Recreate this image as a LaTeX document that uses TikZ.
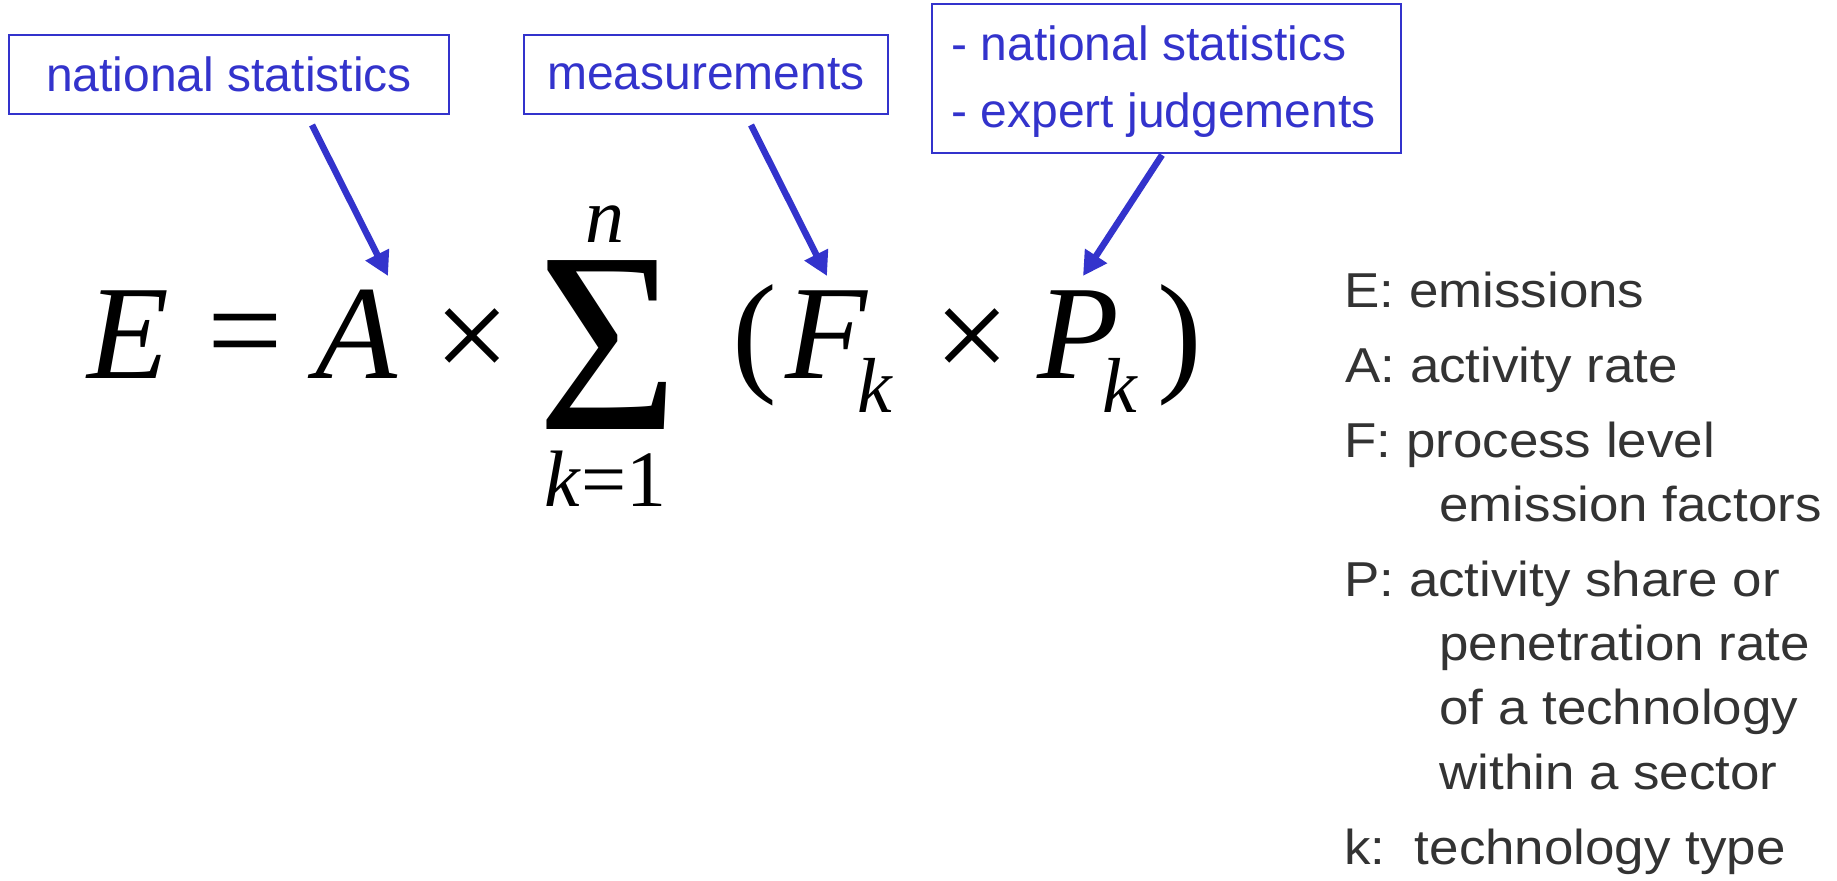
\documentclass[tikz,border=0pt]{standalone}
\usepackage{fontspec}
\usepackage{graphicx}
\setmainfont{Liberation Sans}
\newfontfamily\boxfont{Liberation Sans}
\newfontfamily\legfont[FakeStretch=1.08]{Liberation Sans}
\newfontfamily\eqfont{Liberation Serif}
\usetikzlibrary{arrows.meta}
\definecolor{lblue}{RGB}{51,51,204}
\definecolor{lgray}{RGB}{51,51,51}
\tikzset{
  srcbox/.style={draw=lblue, line width=1pt, inner sep=0pt, outer sep=0pt, text=lblue,
    font=\boxfont\fontsize{24}{28}\selectfont},
  srctext/.style={inner sep=0pt, anchor=base west, text=lblue,
    font=\boxfont\fontsize{24}{28}\selectfont},
  leg/.style={inner sep=0pt, anchor=base west, text=lgray,
    font=\legfont\fontsize{24.5}{29}\selectfont},
  bigup/.style={inner sep=0pt, anchor=center, font=\eqfont\fontsize{67}{80}\selectfont},
  bigit/.style={inner sep=0pt, anchor=base, font=\eqfont\itshape\fontsize{67}{80}\selectfont},
  subsc/.style={inner sep=0pt, anchor=base, font=\eqfont\fontsize{39}{47}\selectfont},
  ptr/.style={lblue, line width=3.25pt, -{Triangle[length=12pt,width=12.5pt]}}
}
\begin{document}
\begin{tikzpicture}[x=0.5pt,y=-0.5pt]
\useasboundingbox (0,0) rectangle (1837,881);
\fill[white] (0,0) rectangle (1837,881);

% source boxes
\node[srcbox, minimum width=220pt, minimum height=39.5pt] (b1) at (229,74.5) {national statistics};
\node[srcbox, minimum width=182pt, minimum height=39.5pt] (b2) at (706,74.5) {measurements};
\node[srcbox, minimum width=234.5pt, minimum height=74.5pt] (b3) at (1166.5,78.5) {};
\node[srctext] (b3a) at (951,61) {- national statistics};
\node[srctext] (b3b) at (951,128) {- expert judgements};

% formula
\node[bigit] (fE) at (128,379) {E};
\node[bigup] (feq) at (245.5,344.5) {=};
\node[bigit] (fA) at (356,379) {A};
\node[bigup] (ft1) at (472.5,344.5) {×};
\node[inner sep=0pt, anchor=center, font=\eqfont\fontsize{129}{140}\selectfont] (fsum) at (608.5,345) {\scalebox{0.94}[1]{Σ}};
\node[subsc, font=\eqfont\itshape\fontsize{39}{47}\selectfont] (fn) at (605,243) {n};
\node[subsc, font=\eqfont\fontsize{40}{48}\selectfont] (fk1) at (605.5,507) {\textit{k}=1};
\node[bigup] (flp) at (755,345) {(};
\node[bigit] (fF) at (826,379) {F};
\node[subsc, font=\eqfont\itshape\fontsize{39}{47}\selectfont] (fFk) at (875,413) {k};
\node[bigup] (ft2) at (972,344.5) {×};
\node[bigit] (fP) at (1078,379) {P};
\node[subsc, font=\eqfont\itshape\fontsize{39}{47}\selectfont] (fPk) at (1120,413) {k};
\node[bigup] (frp) at (1180,345) {)};

% arrows
\coordinate (s1) at (312,125);
\coordinate (t1) at (388,276);
\coordinate (s2) at (751,125);
\coordinate (t2) at (827,276);
\coordinate (s3) at (1162,155);
\coordinate (t3) at (1083,276);
\draw[ptr] (s1) -- (t1);
\draw[ptr] (s2) -- (t2);
\draw[ptr] (s3) -- (t3);

% legend
\node[leg] (lE) at (1344,308) {E: emissions};
\node[leg] (lA) at (1345,383) {A: activity rate};
\node[leg] (lF) at (1344,458) {F: process level};
\node[leg] (lF2) at (1439,522) {emission factors};
\node[leg] (lP) at (1344,597) {P: activity share or};
\node[leg] (lP2) at (1439,661) {penetration rate};
\node[leg] (lP3) at (1439,725) {of a technology};
\node[leg] (lP4) at (1439,789) {within a sector};
\node[leg] (lk) at (1344,864) {k:\ \ technology type};
\end{tikzpicture}
\end{document}
